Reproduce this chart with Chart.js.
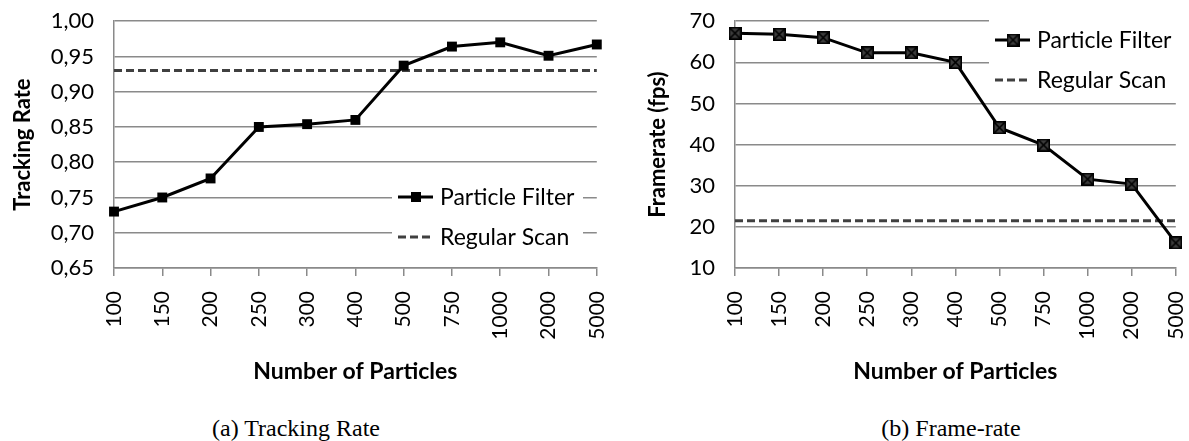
<!DOCTYPE html>
<html>
<head>
<meta charset="utf-8">
<script src="https://cdn.jsdelivr.net/npm/chart.js@4.4.0/dist/chart.umd.min.js"></script>
<style>
    body { margin: 0; background: #fff; width: 1189px; height: 441px; position: relative; overflow: hidden; }
    .box { position: absolute; top: -12px; }
    .cap { position: absolute; top: 415px; font-family: "Liberation Serif", serif; font-size: 24px; transform: translateX(-50%); white-space: nowrap; color: #000; }
</style>
</head>
<body>
<div class="box" style="left:0"><canvas id="rateChart" width="637" height="407"></canvas></div>
<div class="box" style="left:600px"><canvas id="fpsChart" width="616" height="407"></canvas></div>
<div class="cap" style="left:296px">(a) Tracking Rate</div>
<div class="cap" style="left:951px">(b) Frame-rate</div>
<script>
var particleCounts = ['100', '150', '200', '250', '300', '400', '500', '750', '1000', '2000', '5000'];
var trackingRate = [0.730, 0.750, 0.777, 0.850, 0.854, 0.860, 0.937, 0.964, 0.970, 0.951, 0.967];
var trackingRegular = [0.93, 0.93, 0.93, 0.93, 0.93, 0.93, 0.93, 0.93, 0.93, 0.93, 0.93];
var framerate = [67.1, 66.8, 66.0, 62.3, 62.3, 60.0, 44.1, 39.9, 31.6, 30.4, 16.1];
var framerateRegular = [21.5, 21.5, 21.5, 21.5, 21.5, 21.5, 21.5, 21.5, 21.5, 21.5, 21.5];
var seriesNames = ['Particle Filter', 'Regular Scan'];

var FONT = 'Lato';
var GRID = '#8a8a8a';

// square marker with a cross, used on the framerate chart
var crossMarker = document.createElement('canvas');
crossMarker.width = 13;
crossMarker.height = 13;
(function () {
    var c = crossMarker.getContext('2d');
    c.fillStyle = '#3c3c3c';
    c.fillRect(0, 0, 13, 13);
    c.strokeStyle = '#000';
    c.lineWidth = 1.6;
    c.strokeRect(0.8, 0.8, 11.4, 11.4);
    c.beginPath();
    c.moveTo(1, 1); c.lineTo(12, 12);
    c.moveTo(12, 1); c.lineTo(1, 12);
    c.stroke();
})();

function drawMarker(ctx, style, x, y) {
    if (style === 'rect') {
        ctx.fillStyle = '#000';
        ctx.fillRect(x - 5, y - 5, 10, 10);
    } else if (style) {
        ctx.drawImage(style, x - 6.5, y - 6.5);
    }
}

var legendBox = {
    id: 'legendBox',
    beforeDatasetsDraw: function (chart, args, opts) {
        var ctx = chart.ctx;
        ctx.save();
        ctx.fillStyle = '#fff';
        ctx.fillRect(opts.x, opts.y, opts.w, opts.h);
        ctx.font = '23px ' + FONT;
        ctx.textBaseline = 'middle';
        chart.data.datasets.forEach(function (ds, i) {
            var y = opts.y + opts.first + i * opts.gap;
            var x0 = opts.x + opts.sample;
            ctx.strokeStyle = ds.borderColor;
            ctx.lineWidth = ds.borderWidth;
            ctx.setLineDash(ds.borderDash || []);
            ctx.beginPath();
            ctx.moveTo(x0, y);
            ctx.lineTo(x0 + 35, y);
            ctx.stroke();
            ctx.setLineDash([]);
            if (ds.pointRadius > 0) {
                drawMarker(ctx, ds.pointStyle, x0 + 18, y);
            }
            ctx.fillStyle = '#000';
            ctx.fillText(ds.label, x0 + 42, y + 1);
        });
        ctx.restore();
    }
};

function makeChart(id, values, regular, yMin, yMax, yStep, yTitle, fmt, marker, axisWidth, titlePad, legend) {
    var ctx = document.getElementById(id).getContext('2d');
    return new Chart(ctx, {
        type: 'line',
        data: {
            labels: particleCounts,
            datasets: [{
                label: seriesNames[0],
                data: values,
                borderColor: '#000',
                borderWidth: 3,
                pointStyle: marker,
                pointRadius: 7,
                pointBackgroundColor: '#000',
                pointBorderWidth: 0,
                tension: 0,
                clip: false
            }, {
                label: seriesNames[1],
                data: regular,
                borderColor: '#404040',
                borderWidth: 3,
                borderDash: [8, 4],
                pointRadius: 0,
                tension: 0,
                clip: false
            }]
        },
        options: {
            responsive: false,
            animation: false,
            layout: { padding: { top: 8, right: 13, left: 0, bottom: 0 } },
            plugins: {
                legend: { display: false },
                tooltip: { enabled: false },
                legendBox: legend
            },
            scales: {
                x: {
                    grid: { drawOnChartArea: false, drawTicks: true, tickLength: 8, color: GRID, lineWidth: 1.5 },
                    border: { display: true, color: GRID, width: 1.5 },
                    ticks: {
                        autoSkip: false, minRotation: 90, maxRotation: 90, padding: 15,
                        color: '#000', font: { family: FONT, size: 21 }
                    },
                    title: {
                        display: true, text: 'Number of Particles', color: '#000',
                        font: { family: FONT, size: 23, weight: 'bold' }, padding: { top: 0, bottom: 10 }
                    },
                    afterFit: function (scale) { scale.height = 127; }
                },
                y: {
                    min: yMin, max: yMax,
                    grid: { drawTicks: false, color: GRID, lineWidth: 1.5 },
                    border: { display: true, color: GRID, width: 1.5 },
                    ticks: {
                        stepSize: yStep, padding: 20, color: '#000',
                        font: { family: FONT, size: 22 },
                        callback: fmt
                    },
                    title: {
                        display: true, text: yTitle, color: '#000',
                        font: { family: FONT, size: 22, weight: 'bold' }, padding: { top: titlePad, bottom: 0 }
                    },
                    afterFit: function (scale) { scale.width = axisWidth; }
                }
            }
        },
        plugins: [legendBox]
    });
}

// legend boxes are placed in canvas coordinates (canvas is shifted up by 12px)
makeChart('rateChart', trackingRate, trackingRegular, 0.65, 1.0, 0.05, 'Tracking Rate',
    function (v) { return v.toFixed(2).replace('.', ','); },
    'rect', 114, 10, { x: 392, y: 190, w: 191, h: 77, sample: 6, first: 19, gap: 40 });

makeChart('fpsChart', framerate, framerateRegular, 10, 70, 10, 'Framerate (fps)',
    function (v) { return v; },
    crossMarker, 135, 45, { x: 389, y: 24, w: 230, h: 86, sample: 6, first: 28, gap: 40 });
</script>
</body>
</html>
